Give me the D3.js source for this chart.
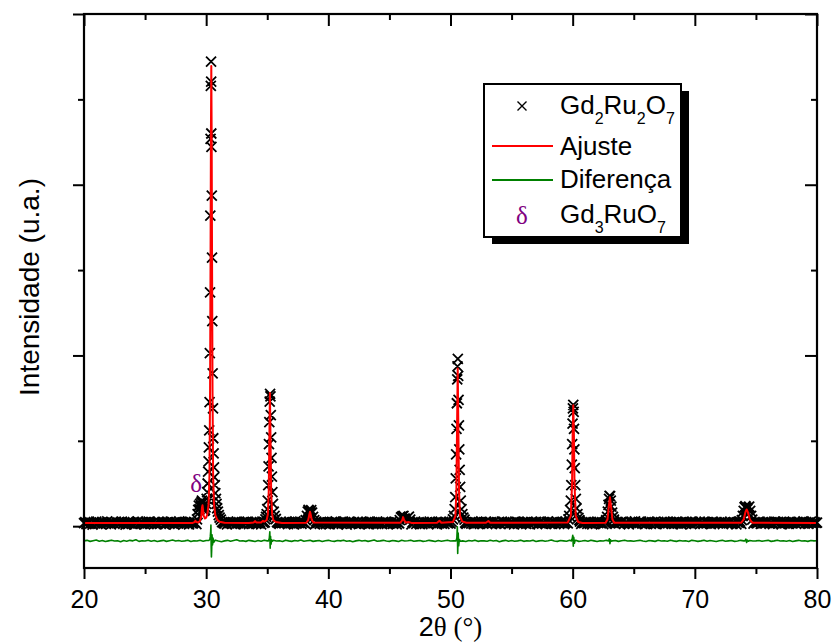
<!DOCTYPE html>
<html><head><meta charset="utf-8">
<script src="https://cdn.jsdelivr.net/npm/d3@7"></script>
<style>body{margin:0;background:#fff}</style>
</head><body>
<svg id="c" width="833" height="643"></svg>
<script>
// ---------- data ----------
const xTicks = [20,30,40,50,60,70,80];
const xMinorTicks = [25,35,45,55,65,75];
const yTicks = [0,1000,2000,3000];
const yMinorTicks = [500,1500,2500];

// observed background (Gd2Ru2O7 data), 2θ = 20.0 ... 80.0 step 0.1
const bgStart = 20, bgStep = 0.1;
const obsBackground = [
18,24,12,20,27,15,21,9,23,17,26,14,19,22,11,25,16,20,13,28,
17,21,10,24,19,14,26,18,22,12,20,27,15,23,9,19,25,16,21,13,
24,18,11,22,28,16,20,14,25,19,10,23,17,26,21,13,18,24,15,20,
12,27,19,16,22,25,11,20,18,23,14,26,17,21,9,24,19,15,28,20,
16,22,13,25,19,21,10,27,18,15,23,20,12,26,17,22,14,24,19,11,
23,17,26,14,20,18,25,12,21,16,28,19,13,24,20,15,22,10,26,18,
19,14,24,21,11,27,16,23,18,20,13,25,17,22,26,12,19,24,15,21,
25,13,20,17,23,10,26,19,22,15,21,18,27,14,24,16,20,11,23,19,
14,26,18,22,16,24,20,12,25,17,19,23,11,28,15,21,18,26,13,22,
20,16,27,13,23,19,15,24,21,10,26,18,22,14,25,17,20,23,12,19,
22,11,19,25,16,21,28,14,20,18,24,13,26,17,23,9,21,19,25,15,
18,24,15,20,27,12,22,17,25,19,14,23,20,11,26,16,24,18,21,13,
26,15,21,18,12,24,19,27,14,22,17,20,25,13,19,23,10,21,16,24,
13,20,25,17,22,15,28,19,11,23,18,26,14,21,24,16,20,12,25,18,
21,17,12,26,19,23,16,20,24,10,22,18,27,15,21,13,25,19,17,23,
15,25,20,14,27,18,22,11,24,19,16,26,20,13,22,18,24,15,28,12,
24,19,16,22,13,25,20,17,21,26,12,23,18,24,15,20,27,14,19,22,
17,12,26,19,23,16,21,25,14,20,18,22,11,27,19,24,16,21,13,25,
20,23,14,27,18,11,24,20,16,22,25,13,21,19,26,15,23,18,12,24,
26,16,21,13,24,19,17,28,20,14,23,18,25,12,20,22,16,26,19,15,
12,22,19,25,15,21,26,13,23,18,20,24,14,27,17,21,11,23,20,18,
23,18,25,16,20,12,22,27,15,24,19,13,21,26,18,14,25,20,17,22,
19,26,13,21,24,17,11,25,20,22,16,28,18,13,23,20,26,15,21,12,
16,21,27,18,14,23,20,24,12,19,25,17,22,20,15,27,13,24,18,21,
25,14,20,23,17,26,15,19,22,11,24,20,16,25,21,18,23,12,26,19,
13,24,18,22,26,16,21,14,27,20,17,23,19,12,25,21,15,24,20,17,
21,19,25,12,20,24,17,22,16,26,13,21,24,18,11,23,19,27,14,22,
18,23,16,27,21,13,25,19,15,24,20,17,22,26,14,20,24,16,21,25,
24,15,22,19,12,26,18,21,25,16,23,11,20,27,17,22,19,14,25,18,
17,22,20,14,25,19,23,16,21,28,15,24,18,13,22,26,17,20,23,19,
21];

// observed points on the reflections [2θ, I]
const obsPeak30 = [[29.25,40],[29.3,70],[29.35,95],[29.4,120],[29.45,100],[29.5,130],[29.55,115],[29.6,140],[29.65,150],[29.7,135],[29.75,120],[29.8,100],[29.85,90],[29.9,95],[29.95,110],[30.0,130],[30.04,160],[30.08,200],[30.12,250],[30.16,320],[30.2,380],[30.22,462],[30.25,561],[30.28,727],[30.3,1013],[30.32,1370],[30.34,1819],[30.36,2269],[30.38,2579],[30.4,2721],[30.41,2604],[30.42,2300],[30.43,2222],[30.46,1936],[30.48,1573],[30.5,1201],[30.53,895],[30.56,690],[30.58,515],[30.61,427],[30.64,345],[30.67,287],[30.71,240],[30.75,193],[30.8,160],[30.85,130],[30.9,105],[30.96,85],[31.03,65],[31.1,50],[31.2,38]];
const obsPeak35 = [[34.85,40],[34.9,55],[34.95,70],[35.0,100],[35.04,150],[35.08,240],[35.11,350],[35.14,480],[35.17,610],[35.2,730],[35.23,775],[35.26,760],[35.29,650],[35.32,520],[35.35,400],[35.38,290],[35.42,200],[35.47,130],[35.53,85],[35.6,60],[35.7,42]];
const obsPeak38 = [[38.15,35],[38.25,60],[38.32,85],[38.38,96],[38.45,88],[38.52,82],[38.6,94],[38.67,80],[38.75,55],[38.85,35]];
const obsPeak46 = [[45.85,35],[45.95,52],[46.05,58],[46.15,60],[46.25,45],[46.4,42],[46.5,50],[46.6,56],[46.7,38]];
const obsPeak50 = [[50.2,40],[50.28,60],[50.34,100],[50.39,170],[50.43,280],[50.46,420],[50.49,570],[50.52,720],[50.55,860],[50.57,936],[50.6,980],[50.63,880],[50.66,740],[50.69,590],[50.72,450],[50.75,330],[50.79,230],[50.84,150],[50.9,100],[50.97,70],[51.05,50],[51.15,38]];
const obsPeak60 = [[59.65,40],[59.72,60],[59.79,95],[59.85,150],[59.89,240],[59.93,360],[59.96,480],[59.99,600],[60.02,690],[60.05,711],[60.08,670],[60.11,570],[60.14,450],[60.17,340],[60.21,240],[60.26,160],[60.32,105],[60.39,70],[60.47,48],[60.55,35]];
const obsPeak63 = [[62.75,35],[62.82,55],[62.88,85],[62.93,125],[62.98,160],[63.02,178],[63.07,176],[63.12,150],[63.17,115],[63.23,80],[63.3,55],[63.38,38]];
const obsPeak74 = [[73.85,35],[73.93,60],[74.0,90],[74.07,112],[74.14,117],[74.22,108],[74.3,100],[74.38,110],[74.45,114],[74.53,90],[74.61,60],[74.7,38]];

// calculated profile (Ajuste) [2θ, I]
const ajuste = [[20,18],[24,18],[28,18],[28.9,19],[29.05,24],[29.12,32],[29.2,24],[29.35,22],[29.5,30],[29.6,60],[29.66,110],[29.7,123],[29.74,100],[29.8,60],[29.9,45],[30.0,50],[30.1,70],[30.2,130],[30.27,300],[30.32,800],[30.36,1600],[30.39,2300],[30.42,2696],[30.45,2300],[30.48,1600],[30.52,800],[30.57,300],[30.64,130],[30.75,65],[30.9,38],[31.1,26],[31.5,20],[33.5,19],[33.9,22],[34.0,30],[34.1,22],[34.5,22],[34.65,32],[34.75,26],[34.95,35],[35.05,70],[35.12,200],[35.17,500],[35.22,780],[35.27,500],[35.32,200],[35.4,70],[35.5,35],[35.7,24],[36.2,19],[38.2,20],[38.35,35],[38.45,70],[38.5,84],[38.55,70],[38.65,35],[38.8,21],[45.9,20],[46.05,35],[46.12,53],[46.2,35],[46.35,21],[46.6,24],[46.8,19],[48.9,20],[49.1,32],[49.25,20],[50.2,24],[50.4,60],[50.48,200],[50.54,600],[50.59,924],[50.64,600],[50.7,200],[50.78,60],[50.95,28],[51.3,20],[52.9,20],[53.1,30],[53.25,20],[59.6,22],[59.85,60],[59.95,250],[60.0,550],[60.05,708],[60.1,550],[60.15,250],[60.25,60],[60.45,25],[60.8,19],[62.7,20],[62.85,40],[62.95,110],[63.05,170],[63.15,110],[63.25,40],[63.4,20],[73.8,20],[74.0,40],[74.15,85],[74.24,98],[74.33,85],[74.5,40],[74.7,20],[80,18]];

// difference curve (Diferença), offset below the pattern, 2θ = 20 ... 80 step 0.25
const diffStart = 20, diffStep = 0.25;
const diffBackground = [
-86,-83,-89,-85,-81,-88,-84,-90,-86,-82,-87,-85,-91,-84,-88,-83,-86,-80,-89,-85,
-87,-82,-88,-84,-90,-86,-83,-89,-85,-81,-87,-84,-88,-86,-82,-90,-85,-87,-83,-88,
-84,-89,-85,-82,-87,-91,-86,-83,-88,-84,-80,-87,-85,-89,-83,-86,-90,-84,-88,-82,
-86,-88,-83,-87,-85,-90,-82,-86,-89,-84,-87,-81,-88,-85,-83,-89,-86,-84,-90,-85,
-83,-87,-89,-84,-86,-82,-88,-85,-91,-86,-83,-87,-84,-89,-85,-81,-88,-86,-83,-87,
-89,-84,-86,-90,-83,-87,-85,-82,-88,-86,-84,-89,-87,-83,-86,-90,-84,-88,-85,-82,
-87,-85,-83,-88,-86,-90,-84,-87,-82,-89,-85,-86,-88,-83,-87,-84,-91,-86,-83,-88,
-84,-88,-86,-82,-89,-85,-87,-83,-90,-86,-84,-88,-85,-81,-87,-89,-84,-86,-88,-83,
-86,-83,-89,-87,-84,-88,-82,-86,-90,-85,-87,-83,-88,-86,-84,-89,-85,-82,-87,-86,
-88,-85,-83,-87,-90,-84,-86,-89,-83,-87,-85,-88,-82,-86,-89,-84,-87,-85,-90,-83,
-85,-89,-86,-82,-88,-84,-87,-90,-85,-83,-88,-86,-84,-89,-87,-83,-86,-88,-84,-87,
-86,-84,-88,-85,-83,-89,-86,-82,-87,-85,-88,-84,-90,-86,-83,-87,-85,-89,-84,-86,
-85];
const diffSpike30 = [[30.2,-84],[30.3,-78],[30.34,-60],[30.37,-30],[30.39,6],[30.41,-120],[30.43,-180],[30.45,-140],[30.48,-50],[30.52,-110],[30.56,-70],[30.62,-95],[30.7,-84]];
const diffSpike35 = [[35.1,-86],[35.17,-70],[35.21,-33],[35.24,-129],[35.27,-60],[35.31,-105],[35.36,-80],[35.42,-88]];
const diffSpike50 = [[50.45,-86],[50.52,-70],[50.56,-4],[50.59,-160],[50.63,-40],[50.67,-115],[50.72,-78],[50.8,-88]];
const diffSpike60 = [[59.9,-86],[59.97,-70],[60.01,-53],[60.05,-117],[60.09,-65],[60.14,-100],[60.2,-84]];
const diffSpike63 = [[62.95,-86],[63.0,-74],[63.05,-102],[63.1,-80],[63.16,-88]];
const diffSpike74 = [[74.1,-86],[74.18,-76],[74.24,-96],[74.3,-82],[74.38,-88]];

const deltaLabel = {t: 29.17, I: 200, text: "δ"};
const xTitle = ["2", "θ (°)"];
const yTitle = "Intensidade (u.a.)";

// ---------- build series ----------
const obsPeaks = [obsPeak30, obsPeak35, obsPeak38, obsPeak46, obsPeak50, obsPeak60, obsPeak63, obsPeak74];
const diffSpikes = [diffSpike30, diffSpike35, diffSpike50, diffSpike60, diffSpike63, diffSpike74];
const windowsOf = groups => groups.map(g => [g[0][0], g[g.length-1][0]]);
const inside = (t, ws) => ws.some(w => t >= w[0] - 1e-9 && t <= w[1] + 1e-9);
const obsW = windowsOf(obsPeaks), diffW = windowsOf(diffSpikes);
const observed = obsBackground.map((v,i) => [+(bgStart + i*bgStep).toFixed(3), v])
  .filter(p => !inside(p[0], obsW)).concat(obsPeaks.flat());
const difference = diffBackground.map((v,i) => [+(diffStart + i*diffStep).toFixed(3), v])
  .filter(p => !inside(p[0], diffW)).concat(diffSpikes.flat()).sort((a,b) => a[0]-b[0]);

// ---------- drawing ----------
const L = 84, R = 817, T = 14, B = 568;
const x = d3.scaleLinear().domain([20,80]).range([L,R]);
const y = d3.scaleLinear().domain([-245,3000]).range([B,T]);
const svg = d3.select("#c");
const sans = "'Liberation Sans', Arial, Helvetica, sans-serif";
const serif = "'Liberation Serif', 'Times New Roman', serif";

// observed crosses
const cs = 5;
const crossPath = d3.path();
observed.forEach(([t,I]) => {
  const cx = x(t), cy = y(I);
  crossPath.moveTo(cx-cs, cy-cs); crossPath.lineTo(cx+cs, cy+cs);
  crossPath.moveTo(cx-cs, cy+cs); crossPath.lineTo(cx+cs, cy-cs);
});
svg.append("path").attr("d", crossPath.toString()).attr("fill","none")
  .attr("stroke","#000").attr("stroke-width",1.8);

// fit
svg.append("path").datum(ajuste)
  .attr("d", d3.line().x(d=>x(d[0])).y(d=>y(d[1])))
  .attr("fill","none").attr("stroke","#ff0000").attr("stroke-width",2).attr("stroke-linejoin","round");

// difference
svg.append("path").datum(difference)
  .attr("d", d3.line().x(d=>x(d[0])).y(d=>y(d[1])))
  .attr("fill","none").attr("stroke","#008000").attr("stroke-width",1.6).attr("stroke-linejoin","round");

// δ marker
svg.append("text").attr("x", x(deltaLabel.t)).attr("y", y(deltaLabel.I))
  .attr("text-anchor","middle").attr("font-family",serif).attr("font-size",25)
  .attr("fill","#800080").text(deltaLabel.text);

// axes
function styleAxis(g){
  g.select(".domain").remove();
  g.selectAll(".tick line").attr("stroke","#000").attr("stroke-width",2);
}
svg.append("g").attr("transform",`translate(0,${B})`)
  .call(d3.axisBottom(x).tickValues(xTicks).tickSize(11).tickSizeOuter(0))
  .call(styleAxis)
  .call(g => g.selectAll("text").attr("y",40).attr("dy",0)
    .attr("font-family",sans).attr("font-size",25).attr("fill","#000"));
svg.append("g").attr("transform",`translate(0,${B})`)
  .call(d3.axisBottom(x).tickValues(xMinorTicks).tickSize(6).tickFormat(""))
  .call(styleAxis);
svg.append("g").attr("transform",`translate(0,${T})`)
  .call(d3.axisTop(x).tickValues(xTicks).tickSize(-12).tickFormat(""))
  .call(styleAxis);
svg.append("g").attr("transform",`translate(0,${T})`)
  .call(d3.axisTop(x).tickValues(xMinorTicks).tickSize(-6).tickFormat(""))
  .call(styleAxis);
svg.append("g").attr("transform",`translate(${L},0)`)
  .call(d3.axisLeft(y).tickValues(yTicks).tickSize(11).tickFormat(""))
  .call(styleAxis);
svg.append("g").attr("transform",`translate(${L},0)`)
  .call(d3.axisLeft(y).tickValues(yMinorTicks).tickSize(6).tickFormat(""))
  .call(styleAxis);
svg.append("g").attr("transform",`translate(${R},0)`)
  .call(d3.axisRight(y).tickValues(yTicks).tickSize(-12).tickFormat(""))
  .call(styleAxis);
svg.append("g").attr("transform",`translate(${R},0)`)
  .call(d3.axisRight(y).tickValues(yMinorTicks).tickSize(-6).tickFormat(""))
  .call(styleAxis);

svg.append("rect").attr("x",L).attr("y",T).attr("width",R-L).attr("height",B-T)
  .attr("fill","none").attr("stroke","#000").attr("stroke-width",2.2);

// titles
const xt = svg.append("text").attr("x",(L+R)/2).attr("y",636).attr("text-anchor","middle")
  .attr("font-size",27).attr("fill","#000");
xt.append("tspan").attr("font-family",sans).text(xTitle[0]);
xt.append("tspan").attr("font-family",serif).text(xTitle[1]);
svg.append("text").attr("transform",`translate(39,287) rotate(-90)`)
  .attr("text-anchor","middle").attr("font-family",sans).attr("font-size",28)
  .attr("fill","#000").text(yTitle);

// legend
const lg = svg.append("g");
lg.append("rect").attr("x",492).attr("y",91).attr("width",197).attr("height",153).attr("fill","#000");
lg.append("rect").attr("x",484).attr("y",84).attr("width",197).attr("height",153)
  .attr("fill","#fff").attr("stroke","#000").attr("stroke-width",2);
const lx = 522, ls = 4.5, ly = 106;
lg.append("path").attr("d",`M${lx-ls},${ly-ls}L${lx+ls},${ly+ls}M${lx-ls},${ly+ls}L${lx+ls},${ly-ls}`)
  .attr("stroke","#000").attr("stroke-width",1.4);
function formula(parent, xx, yy, parts){
  const t = parent.append("text").attr("x",xx).attr("y",yy).attr("font-family",sans)
    .attr("font-size",26).attr("fill","#000");
  parts.forEach((p,i) => {
    const ts = t.append("tspan").text(p);
    if (i % 2 === 1) ts.attr("font-size",16).attr("dy",10);
    else if (i > 0) ts.attr("dy",-10);
  });
}
formula(lg, 560, 114, ["Gd","2","Ru","2","O","7"]);
lg.append("line").attr("x1",492).attr("x2",553).attr("y1",146).attr("y2",146)
  .attr("stroke","#ff0000").attr("stroke-width",2);
lg.append("text").attr("x",560).attr("y",155).attr("font-family",sans).attr("font-size",26).text("Ajuste");
lg.append("line").attr("x1",492).attr("x2",553).attr("y1",180).attr("y2",180)
  .attr("stroke","#008000").attr("stroke-width",2);
lg.append("text").attr("x",560).attr("y",188).attr("font-family",sans).attr("font-size",26).text("Diferença");
lg.append("text").attr("x",lx).attr("y",224).attr("text-anchor","middle").attr("font-family",serif)
  .attr("font-size",25).attr("fill","#800080").text("δ");
formula(lg, 560, 223, ["Gd","3","RuO","7"]);
</script>
</body></html>
